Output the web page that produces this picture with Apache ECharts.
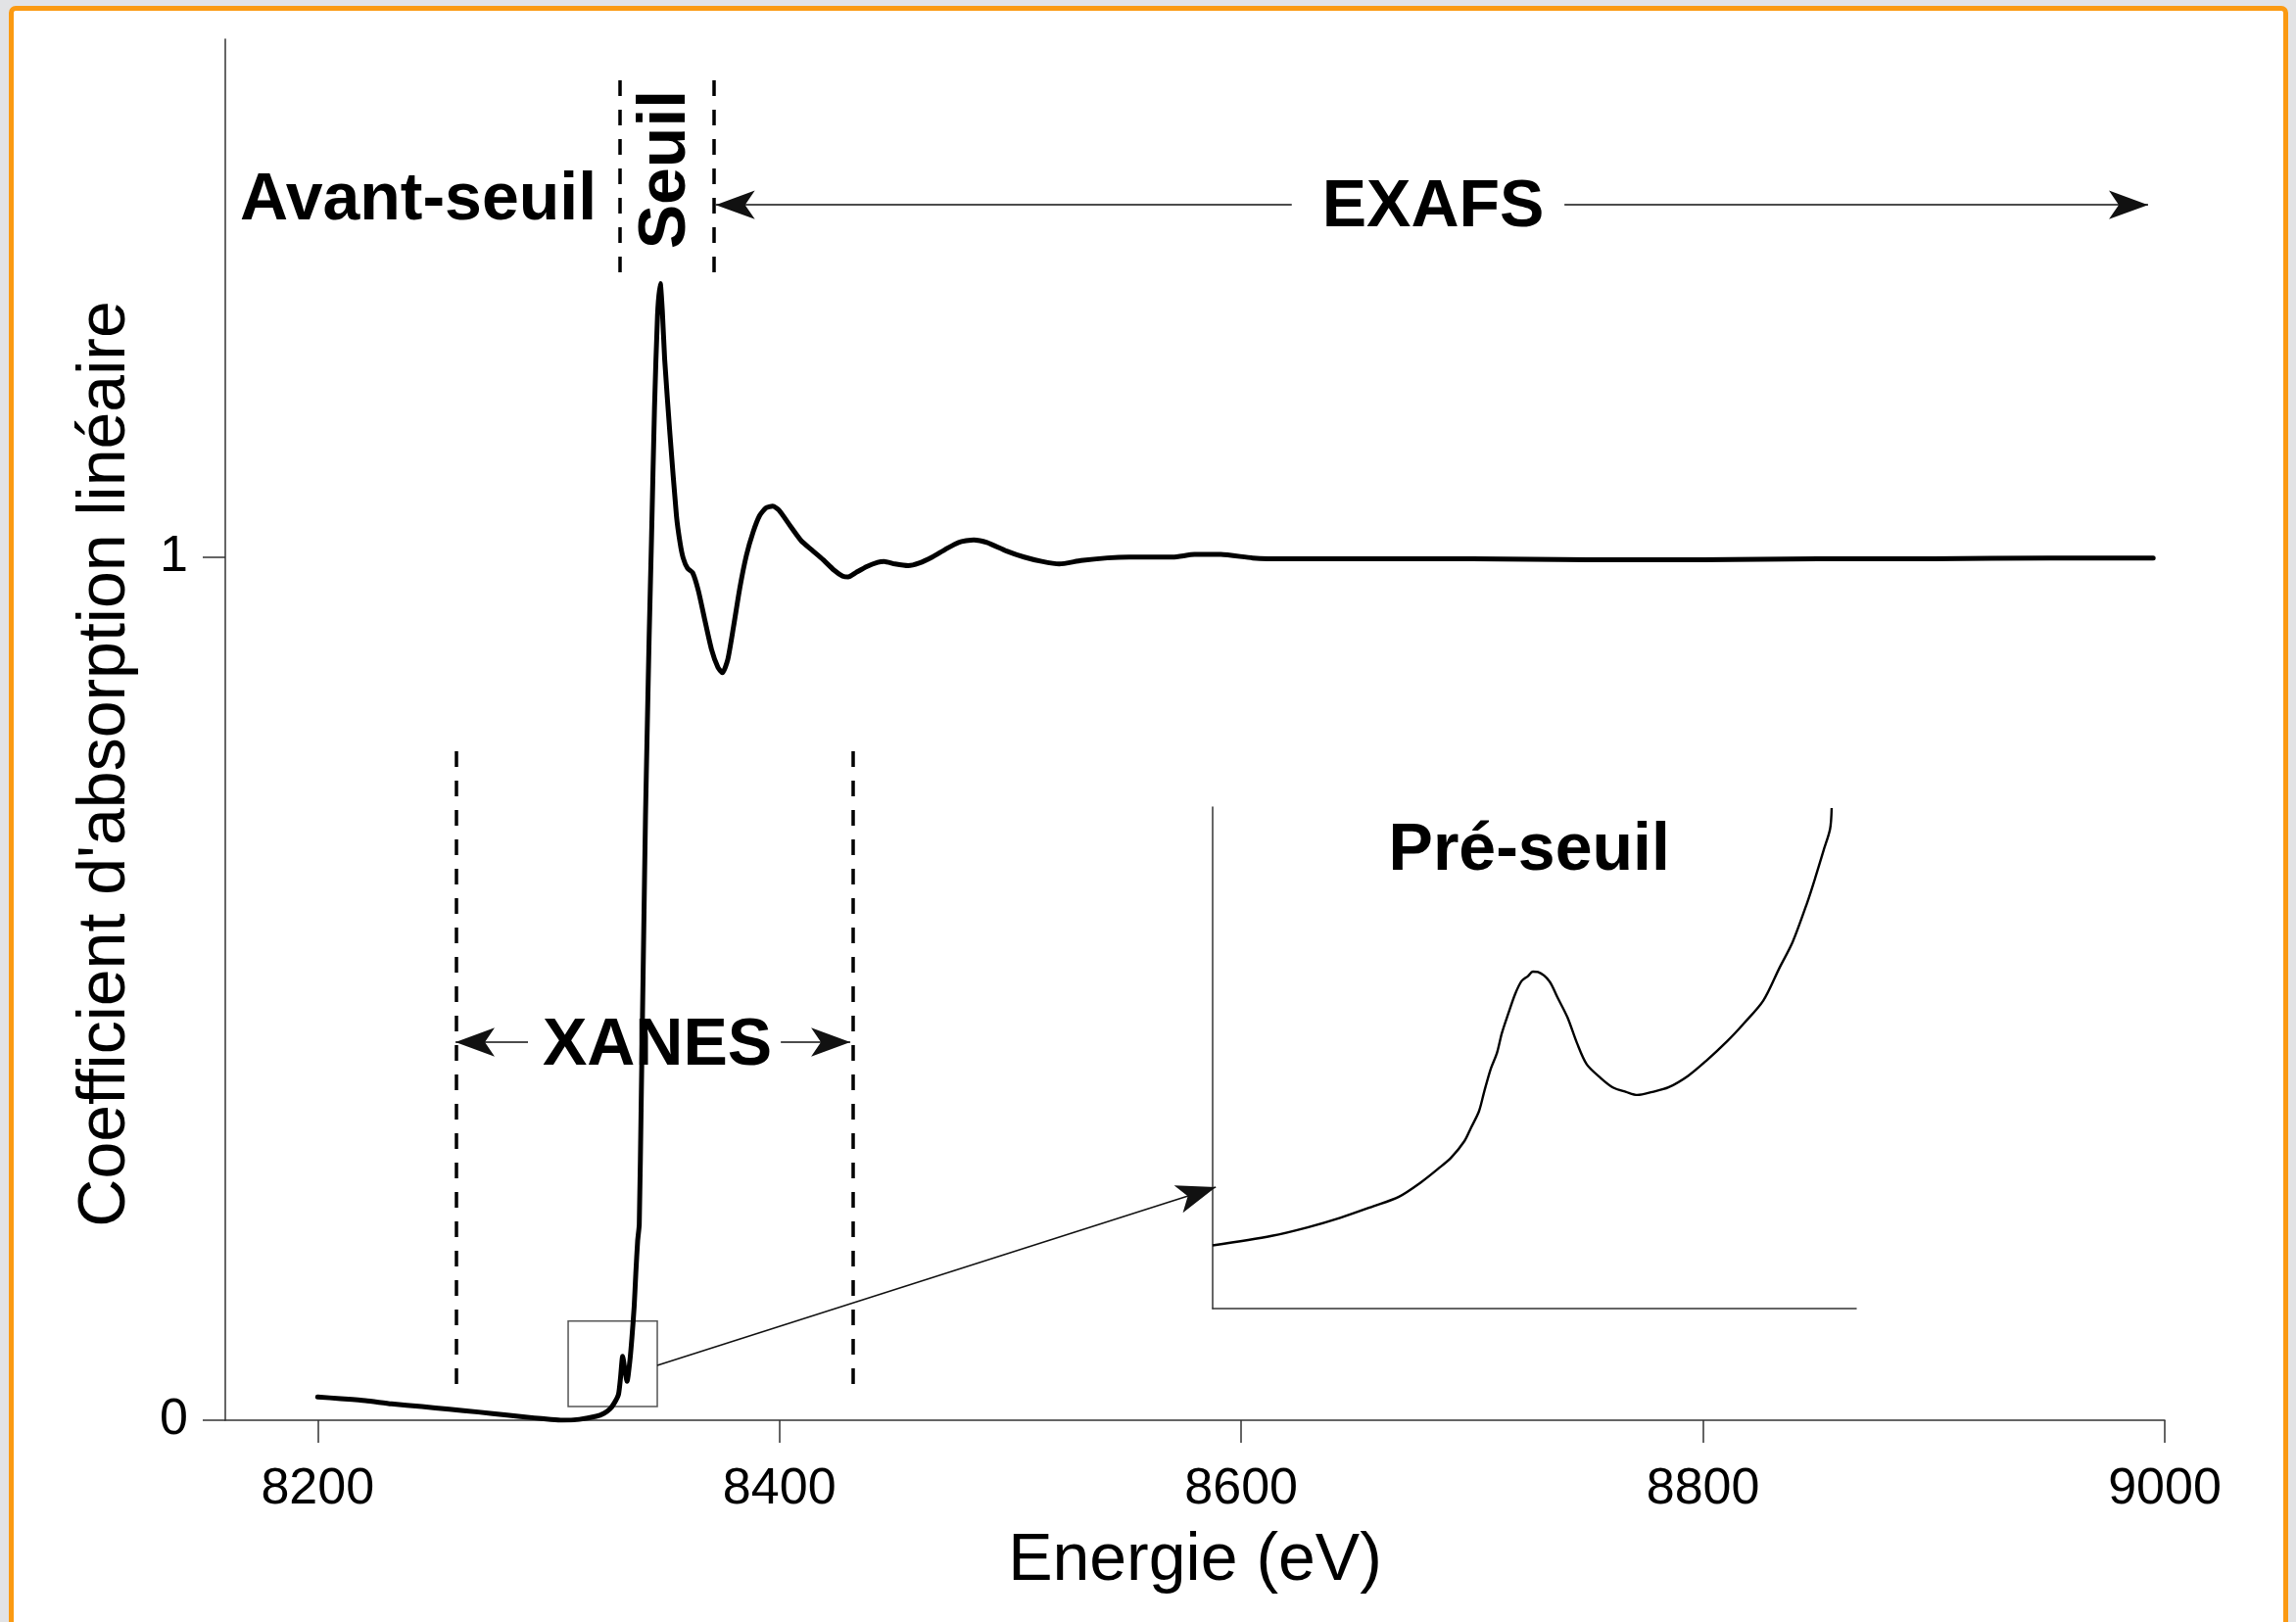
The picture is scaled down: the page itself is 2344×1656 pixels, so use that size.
<!DOCTYPE html>
<html><head><meta charset="utf-8">
<script src="https://cdn.jsdelivr.net/npm/echarts@6/dist/echarts.min.js"></script>
<style>
html,body{margin:0;padding:0;width:2344px;height:1656px;overflow:hidden;background:#e2e3e5;}
#card{position:absolute;left:9px;top:6px;width:2317px;height:1700px;border:5px solid #fb9a12;border-radius:7px;background:#fff;}
#chart{position:absolute;left:0;top:0;width:2344px;height:1656px;}
</style></head><body>
<div id="card"></div><div id="chart"></div>
<script>
// ---- main XAS spectrum (energy in eV, normalized linear absorption) ----
const energy = [8200,8210,8220.7,8232,8245.1,8257,8269.5,8282,8293.8,8300,8305.9,8313.3,8320.6,8324,8326.6,8328.5,8330.3,8331.2,8332.1,8333.1,8334.0,8335.2,8336.1,8337.1,8337.8,8338.6,8339.3,8340.2,8341.2,8342.0,8342.7,8343.6,8344.6,8345.9,8347.2,8348.4,8349.3,8350.3,8352.6,8355.4,8357.0,8358.3,8360.2,8362.4,8364.9,8367.7,8370.6,8373.4,8375.3,8377.6,8380.1,8382.9,8385.7,8388.6,8391.4,8394.2,8397.1,8399.9,8404.7,8409.4,8414.1,8418.9,8423.6,8427.4,8429.8,8433.1,8437.8,8442.6,8445.3,8450.1,8455.8,8460.5,8466.2,8471.9,8477.6,8484.2,8489.9,8498.4,8506.0,8513.6,8521.2,8530.6,8542.0,8551.5,8560.9,8570.4,8579.8,8591.2,8605,8620,8650,8700,8750,8800,8850,8900,8950,8995];
const mu = [0.027,0.025,0.0227,0.019,0.0159,0.0127,0.0095,0.006,0.0027,0.0012,0.0,0.001,0.0045,0.008,0.013,0.020,0.030,0.050,0.074,0.058,0.045,0.068,0.095,0.132,0.170,0.208,0.227,0.38,0.56,0.70,0.794,0.91,1.021,1.173,1.28,1.317,1.285,1.229,1.142,1.048,1.016,0.999,0.987,0.982,0.961,0.927,0.893,0.872,0.866,0.881,0.919,0.965,1.002,1.029,1.048,1.057,1.059,1.054,1.036,1.019,1.008,0.997,0.985,0.978,0.977,0.982,0.989,0.994,0.995,0.992,0.990,0.993,1.000,1.009,1.017,1.020,1.017,1.007,1.000,0.995,0.992,0.996,0.999,1.000,1.000,1.000,1.003,1.003,0.999,0.998,0.998,0.998,0.997,0.997,0.998,0.998,0.999,0.999];

// ---- inset: zoom on the pre-edge (relative units) ----
const insetEnergy = [8325.0,8326.47,8327.36,8328.17,8328.99,8329.63,8330.20,8330.61,8330.93,8331.26,8331.42,8331.62,8331.75,8331.91,8332.07,8332.19,8332.35,8332.52,8332.68,8332.84,8332.96,8333.09,8333.37,8333.57,8333.82,8334.06,8334.30,8334.63,8334.95,8335.28,8335.56,8335.93,8336.33,8336.82,8337.27,8337.79,8338.20,8338.69,8339.09,8339.42,8339.78,8339.99,8340.19,8340.35,8340.39];
const insetMu = [0.126,0.145,0.162,0.181,0.204,0.223,0.253,0.279,0.301,0.334,0.360,0.393,0.432,0.477,0.510,0.549,0.588,0.627,0.653,0.663,0.672,0.671,0.653,0.621,0.581,0.529,0.487,0.461,0.441,0.432,0.426,0.432,0.441,0.464,0.494,0.533,0.568,0.614,0.679,0.731,0.809,0.861,0.914,0.956,0.998];

// ---- axes ----
const xTicks = [8200,8400,8600,8800,9000];
const yTicks = [0,1];

// ---- region annotations (data units) ----
const seuilRange = [8331, 8371.5];      // eV, dashed lines "Seuil"
const seuilSpan = [1.330, 1.558];
const xanesRange = [8260, 8432];        // eV, dashed lines XANES
const xanesSpan = [0.042, 0.789];
const xanesArrowLevel = 0.438;
const xanesArrowEnds = [[8291.1, 8259.7], [8400.6, 8430.7]];
const exafsArrowLevel = 1.408;
const exafsArrowEnds = [[8621.9, 8372.4], [8740, 8992.8]];
const zoomBox = [[8308.5, 0.016], [8347.1, 0.115]];
const connector = [[8347.1, 0.0635], [8589, 0.270]];
const regionLabels = [
  {name: 'Avant-seuil', value: [8243.6, 1.413]},
  {name: 'Seuil', value: [8350.9, 1.449], rotate: 90},
  {name: 'EXAFS', value: [8683.1, 1.404]},
  {name: 'XANES', value: [8347.1, 0.4335]}
];
const insetLabel = {name: 'Pré-seuil', value: [8332.87, 0.911]};

const FONT = "'Liberation Sans', Arial, Helvetica, sans-serif";
const axisCol = '#333';
const arrowSym = [22, 40];
const dashStyle = {type: [16, 14], width: 3.5, color: '#000'};
const arrowStyle = {type: 'solid', width: 1.5, color: '#111'};

function vLine(x, span) {
  return [{coord: [x, span[0]], symbol: 'none', lineStyle: dashStyle},
          {coord: [x, span[1]], symbol: 'none', lineStyle: dashStyle}];
}
function arrow(p0, p1) {
  return [{coord: p0, symbol: 'none', lineStyle: arrowStyle},
          {coord: p1, symbol: 'arrow', symbolSize: arrowSym, lineStyle: arrowStyle}];
}

const markLines = [
  vLine(seuilRange[0], seuilSpan), vLine(seuilRange[1], seuilSpan),
  vLine(xanesRange[0], xanesSpan), vLine(xanesRange[1], xanesSpan),
  ...xanesArrowEnds.map(e => arrow([e[0], xanesArrowLevel], [e[1], xanesArrowLevel])),
  ...exafsArrowEnds.map(e => arrow([e[0], exafsArrowLevel], [e[1], exafsArrowLevel])),
  arrow(connector[0], connector[1])
];

const labelBase = {show: true, position: 'inside', formatter: '{b}', fontSize: 68, fontWeight: 'bold',
  color: '#000', fontFamily: FONT, align: 'center', verticalAlign: 'middle', opacity: 1};

const chart = echarts.init(document.getElementById('chart'), null, {renderer: 'canvas'});
chart.setOption({
  animation: false,
  backgroundColor: 'transparent',
  textStyle: {fontFamily: FONT},
  grid: [
    {left: 230, right: 134, top: 40, bottom: 206},
    {left: 1238, top: 824, width: 657, height: 512}
  ],
  xAxis: [
    {type: 'value', gridIndex: 0, min: 8160, max: 9000,
     axisLine: {show: true, onZero: false, lineStyle: {color: axisCol, width: 1.5}},
     axisTick: {show: true, inside: false, length: 23, customValues: xTicks, lineStyle: {color: axisCol, width: 1.5}},
     axisLabel: {customValues: xTicks, fontSize: 52, color: '#000', margin: 45, fontFamily: FONT,
                 formatter: v => String(v)},
     splitLine: {show: false},
     name: 'Energie (eV)', nameLocation: 'middle', nameGap: 110,
     nameTextStyle: {fontSize: 68, color: '#000', fontFamily: FONT}},
    {type: 'value', gridIndex: 1, min: 8325, max: 8341,
     axisLine: {show: true, onZero: false, lineStyle: {color: axisCol, width: 1.5}},
     axisTick: {show: false}, axisLabel: {show: false}, splitLine: {show: false}}
  ],
  yAxis: [
    {type: 'value', gridIndex: 0, min: 0, max: 1.6,
     axisLine: {show: true, onZero: false, lineStyle: {color: axisCol, width: 1.5}},
     axisTick: {show: true, inside: false, length: 23, customValues: yTicks, lineStyle: {color: axisCol, width: 1.5}},
     axisLabel: {customValues: yTicks, fontSize: 52, color: '#000', margin: 38, fontFamily: FONT,
                 formatter: v => String(v)},
     splitLine: {show: false},
     name: "Coefficient d'absorption linéaire", nameLocation: 'middle', nameGap: 88,
     nameTextStyle: {fontSize: 68, color: '#000', fontFamily: FONT, padding: [0, 70, 0, 0]}},
    {type: 'value', gridIndex: 1, min: 0, max: 1,
     axisLine: {show: true, onZero: false, lineStyle: {color: axisCol, width: 1.5}},
     axisTick: {show: false}, axisLabel: {show: false}, splitLine: {show: false}}
  ],
  series: [
    {type: 'line', name: 'mu', xAxisIndex: 0, yAxisIndex: 0, z: 5,
     data: energy.map((e, i) => [e, mu[i]]),
     showSymbol: false, smooth: 0.2,
     lineStyle: {color: '#000', width: 5, join: 'round', cap: 'round'},
     silent: true,
     markLine: {silent: true, animation: false, symbol: ['none', 'none'], label: {show: false},
                emphasis: {disabled: true}, data: markLines},
     markArea: {silent: true, label: {show: false},
                itemStyle: {color: 'rgba(0,0,0,0)', borderColor: '#555', borderWidth: 1.5},
                data: [[{coord: zoomBox[0]}, {coord: zoomBox[1]}]]}},
    {type: 'line', name: 'inset', xAxisIndex: 1, yAxisIndex: 1, z: 5,
     data: insetEnergy.map((e, i) => [e, insetMu[i]]),
     showSymbol: false, smooth: 0.3, silent: true,
     lineStyle: {color: '#000', width: 2.4, join: 'round'}},
    {type: 'scatter', name: 'labels', xAxisIndex: 0, yAxisIndex: 0, z: 2, silent: true,
     symbolSize: 1, itemStyle: {color: 'rgba(0,0,0,0)'},
     data: regionLabels.map(l => ({name: l.name, value: l.value,
        label: Object.assign({}, labelBase, l.rotate ? {rotate: l.rotate} : {})})),
     label: labelBase},
    {type: 'scatter', name: 'insetLabel', xAxisIndex: 1, yAxisIndex: 1, z: 2, silent: true,
     symbolSize: 1, itemStyle: {color: 'rgba(0,0,0,0)'},
     data: [{name: insetLabel.name, value: insetLabel.value}],
     label: labelBase}
  ]
});
</script></body></html>
